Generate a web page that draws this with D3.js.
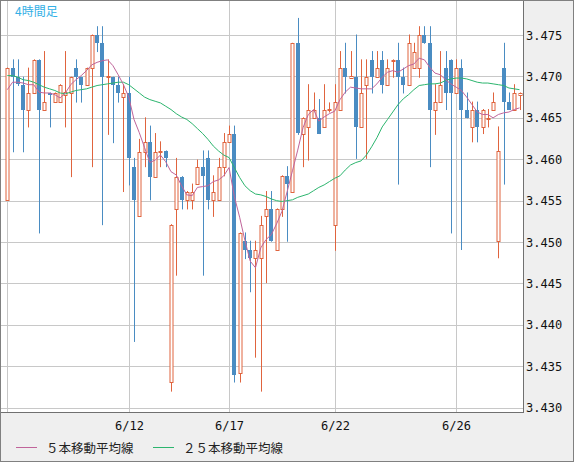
<!DOCTYPE html>
<html>
<head>
<meta charset="utf-8">
<script src="https://cdn.jsdelivr.net/npm/d3@7"></script>
<style>
  body { margin: 0; background: #fff; }
  svg { display: block; }
</style>
</head>
<body>
<svg id="chart" width="574" height="462"></svg>
<script>
// 4-hour candles, oldest first
const opens = [3.4551,3.4710,3.4699,3.4690,3.4660,3.4680,3.4720,3.4660,3.4680,3.4669,
  3.4669,3.4678,3.4680,3.4710,3.4699,3.4690,3.4710,3.4750,3.4740,3.4699,
  3.4699,3.4690,3.4675,3.4680,3.4591,3.4531,3.4609,3.4621,3.4579,3.4609,
  3.4610,3.4331,3.4540,3.4579,3.4551,3.4551,3.4570,3.4591,3.4601,3.4551,
  3.4551,3.4591,3.4621,3.4631,3.4342,3.4501,3.4490,3.4481,3.4481,3.4531,
  3.4540,3.4490,3.4540,3.4580,3.4561,3.4740,3.4630,3.4639,3.4650,3.4650,
  3.4639,3.4660,3.4520,3.4660,3.4710,3.4698,3.4699,3.4639,3.4690,3.4720,
  3.4699,3.4720,3.4690,3.4719,3.4720,3.4699,3.4690,3.4710,3.4710,3.4750,
  3.4740,3.4660,3.4669,3.4710,3.4720,3.4680,3.4710,3.4660,3.4639,3.4660,
  3.4639,3.4648,3.4660,3.4501,3.4710,3.4669,3.4660,3.4678];
const highs = [3.4710,3.4720,3.4720,3.4699,3.4710,3.4720,3.4720,3.4730,3.4680,3.4680,
  3.4690,3.4730,3.4699,3.4720,3.4699,3.4710,3.4750,3.4760,3.4760,3.4720,
  3.4699,3.4699,3.4690,3.4699,3.4601,3.4624,3.4650,3.4640,3.4631,3.4621,
  3.4610,3.4521,3.4601,3.4579,3.4561,3.4570,3.4599,3.4610,3.4610,3.4580,
  3.4601,3.4631,3.4640,3.4640,3.4511,3.4511,3.4501,3.4501,3.4531,3.4561,
  3.4561,3.4540,3.4580,3.4591,3.4740,3.4770,3.4650,3.4690,3.4680,3.4672,
  3.4690,3.4668,3.4690,3.4730,3.4740,3.4730,3.4750,3.4720,3.4720,3.4730,
  3.4730,3.4730,3.4720,3.4720,3.4740,3.4710,3.4750,3.4740,3.4760,3.4760,
  3.4760,3.4690,3.4730,3.4730,3.4720,3.4720,3.4720,3.4680,3.4669,3.4669,
  3.4660,3.4660,3.4680,3.4639,3.4740,3.4680,3.4690,3.4680];
const lows = [3.4551,3.4609,3.4689,3.4609,3.4639,3.4680,3.4511,3.4660,3.4639,3.4669,
  3.4669,3.4639,3.4579,3.4669,3.4669,3.4690,3.4591,3.4730,3.4521,3.4630,
  3.4620,3.4669,3.4561,3.4569,3.4380,3.4531,3.4591,3.4551,3.4579,3.4591,
  3.4591,3.4320,3.4460,3.4540,3.4540,3.4540,3.4570,3.4460,3.4540,3.4531,
  3.4551,3.4580,3.4621,3.4331,3.4331,3.4480,3.4440,3.4361,3.4320,3.4451,
  3.4501,3.4490,3.4531,3.4501,3.4561,3.4630,3.4591,3.4599,3.4650,3.4631,
  3.4639,3.4657,3.4490,3.4660,3.4680,3.4698,3.4601,3.4639,3.4601,3.4680,
  3.4699,3.4680,3.4690,3.4699,3.4570,3.4680,3.4690,3.4710,3.4699,3.4740,
  3.4591,3.4630,3.4669,3.4660,3.4511,3.4680,3.4491,3.4650,3.4621,3.4621,
  3.4631,3.4639,3.4660,3.4481,3.4570,3.4660,3.4660,3.4660];
const closes = [3.4710,3.4699,3.4691,3.4660,3.4680,3.4720,3.4660,3.4669,3.4678,3.4680,
  3.4690,3.4681,3.4699,3.4699,3.4690,3.4710,3.4750,3.4740,3.4699,3.4700,
  3.4690,3.4680,3.4680,3.4601,3.4551,3.4609,3.4621,3.4579,3.4609,3.4610,
  3.4601,3.4521,3.4579,3.4551,3.4561,3.4561,3.4591,3.4580,3.4551,3.4561,
  3.4591,3.4621,3.4631,3.4340,3.4511,3.4490,3.4481,3.4491,3.4521,3.4540,
  3.4501,3.4540,3.4580,3.4570,3.4740,3.4632,3.4650,3.4660,3.4660,3.4631,
  3.4660,3.4661,3.4669,3.4710,3.4699,3.4700,3.4639,3.4680,3.4699,3.4699,
  3.4710,3.4690,3.4710,3.4720,3.4699,3.4690,3.4740,3.4730,3.4750,3.4740,
  3.4660,3.4669,3.4690,3.4680,3.4680,3.4710,3.4660,3.4650,3.4660,3.4639,
  3.4660,3.4650,3.4669,3.4610,3.4669,3.4660,3.4680,3.4680];

// moving averages
const ma5 = [3.4684,3.4693,3.4693,3.4692,3.4690,3.4690,3.4681,3.4680,3.4680,3.4678,
  3.4674,3.4680,3.4690,3.4696,3.4701,3.4707,3.4714,3.4717,3.4719,3.4720,
  3.4713,3.4702,3.4690,3.4675,3.4648,3.4632,3.4614,3.4596,3.4599,3.4605,
  3.4597,3.4585,3.4581,3.4568,3.4557,3.4556,3.4566,3.4567,3.4568,3.4573,
  3.4575,3.4580,3.4590,3.4555,3.4530,3.4502,3.4477,3.4469,3.4493,3.4503,
  3.4509,3.4522,3.4537,3.4561,3.4586,3.4611,3.4638,3.4654,3.4660,3.4646,
  3.4651,3.4655,3.4658,3.4672,3.4681,3.4687,3.4686,3.4685,3.4685,3.4685,
  3.4691,3.4699,3.4705,3.4707,3.4705,3.4709,3.4713,3.4715,3.4722,3.4720,
  3.4711,3.4704,3.4702,3.4696,3.4691,3.4687,3.4683,3.4675,3.4666,3.4657,
  3.4654,3.4654,3.4650,3.4654,3.4656,3.4657,3.4660,3.4662];
const ma25 = [3.4701,3.4701,3.4699,3.4696,3.4695,3.4693,3.4690,3.4687,3.4685,3.4683,
  3.4680,3.4679,3.4681,3.4683,3.4684,3.4685,3.4687,3.4689,3.4690,3.4691,
  3.4692,3.4693,3.4693,3.4690,3.4685,3.4680,3.4675,3.4672,3.4670,3.4668,
  3.4664,3.4660,3.4655,3.4651,3.4648,3.4643,3.4637,3.4631,3.4624,3.4616,
  3.4610,3.4605,3.4602,3.4590,3.4578,3.4568,3.4562,3.4558,3.4557,3.4555,
  3.4552,3.4550,3.4549,3.4550,3.4551,3.4554,3.4556,3.4558,3.4562,3.4566,
  3.4569,3.4573,3.4577,3.4580,3.4587,3.4593,3.4596,3.4598,3.4605,3.4615,
  3.4626,3.4639,3.4648,3.4657,3.4666,3.4673,3.4678,3.4684,3.4689,3.4690,
  3.4691,3.4691,3.4692,3.4695,3.4697,3.4698,3.4698,3.4697,3.4695,3.4693,
  3.4692,3.4692,3.4691,3.4690,3.4689,3.4686,3.4685,3.4684];

const dateTickIdx = [0, 23, 42, 62, 85];
const dateTickLabels = ["", "6/12", "6/17", "6/22", "6/26"];
const priceTicks = [3.430, 3.435, 3.440, 3.445, 3.450, 3.455, 3.460, 3.465, 3.470, 3.475];
const seriesNames = ["５本移動平均線", "２５本移動平均線"];
const title = "4時間足";

const upColor = "#e0643e", downColor = "#4a8cc2";
const ma5Color = "#c0649a", ma25Color = "#2cb56e";

const svg = d3.select("#chart");
const W = 574, H = 462;
const plot = { left: 0, top: 0, right: 523, bottom: 412 };

const candles = opens.map((o, i) => ({
  i, o, h: highs[i], l: lows[i], c: closes[i]
}));

const x = d3.scaleLinear().domain([0, candles.length - 1]).range([7.3, 519.5]);
const y = d3.scaleLinear().domain([3.430, 3.475]).range([407.7, 35]);
const px = (i) => Math.round(x(i)) + 0.5;
const py = (v) => Math.round(y(v)) + 0.5;

// background
svg.append("rect").attr("width", W).attr("height", H).attr("fill", "#efefef");
svg.append("rect")
  .attr("x", plot.left).attr("y", plot.top)
  .attr("width", plot.right - plot.left).attr("height", plot.bottom - plot.top)
  .attr("fill", "#fff");

const clip = svg.append("clipPath").attr("id", "clip")
  .append("rect")
  .attr("x", plot.left).attr("y", plot.top)
  .attr("width", plot.right - plot.left).attr("height", plot.bottom - plot.top);

const grid = svg.append("g").attr("stroke", "#c8c8c8").attr("stroke-width", 1);
grid.selectAll(".hg").data(priceTicks).join("line")
  .attr("x1", plot.left).attr("x2", plot.right)
  .attr("y1", (d) => py(d)).attr("y2", (d) => py(d));
grid.selectAll(".vg").data(dateTickIdx).join("line")
  .attr("x1", (d) => px(d)).attr("x2", (d) => px(d))
  .attr("y1", plot.top).attr("y2", plot.bottom);

const chartArea = svg.append("g").attr("clip-path", "url(#clip)");

// wicks
chartArea.selectAll(".wick").data(candles).join("line")
  .attr("class", "wick")
  .attr("x1", (d) => px(d.i)).attr("x2", (d) => px(d.i))
  .attr("y1", (d) => y(d.h) - 0.5).attr("y2", (d) => y(d.l) + 0.5)
  .attr("stroke", (d) => (d.c >= d.o ? upColor : downColor))
  .attr("stroke-width", 1);

// bodies
chartArea.selectAll(".body").data(candles).join("rect")
  .attr("class", "body")
  .each(function (d) {
    const up = d.c >= d.o;
    const top = Math.round(y(Math.max(d.o, d.c)));
    const bot = Math.round(y(Math.min(d.o, d.c)));
    const cx = px(d.i);
    const sel = d3.select(this);
    if (up) {
      sel.attr("x", cx - 1.5).attr("y", top + 0.5)
        .attr("width", 3).attr("height", Math.max(bot - top, 1))
        .attr("fill", "#fff").attr("stroke", upColor).attr("stroke-width", 1);
    } else {
      sel.attr("x", cx - 2.5).attr("y", top)
        .attr("width", 4).attr("height", Math.max(bot - top, 1))
        .attr("fill", downColor);
    }
  });

// moving averages
const line = (arr) => d3.line().x((d, i) => x(i)).y((d) => y(d))(arr);
chartArea.append("path").attr("d", line(ma25))
  .attr("fill", "none").attr("stroke", ma25Color).attr("stroke-width", 1);
chartArea.append("path").attr("d", line(ma5))
  .attr("fill", "none").attr("stroke", ma5Color).attr("stroke-width", 1);

// plot border
svg.append("rect")
  .attr("x", plot.left + 0.5).attr("y", plot.top + 0.5)
  .attr("width", plot.right - plot.left).attr("height", plot.bottom - plot.top)
  .attr("fill", "none").attr("stroke", "#707070");

// outer frame
svg.append("rect")
  .attr("x", 0.5).attr("y", 0.5).attr("width", W - 1).attr("height", H - 1)
  .attr("fill", "none").attr("stroke", "#808080");

const mono = "'DejaVu Sans Mono', 'Liberation Mono', monospace";

// price axis (right)
svg.append("g").selectAll("text").data(priceTicks).join("text")
  .attr("x", 526).attr("y", (d) => y(d) + 4.5)
  .attr("font-family", mono).attr("font-size", 12)
  .attr("fill", "#111")
  .text((d) => d.toFixed(3));

// date axis
svg.append("g").selectAll("text").data(dateTickIdx).join("text")
  .attr("x", (d) => px(d)).attr("y", 429.5)
  .attr("text-anchor", "middle")
  .attr("font-family", mono).attr("font-size", 12)
  .attr("fill", "#111")
  .text((d, k) => dateTickLabels[k]);

// title
svg.append("text").attr("x", 15).attr("y", 16)
  .attr("font-family", "'Noto Sans CJK JP', sans-serif").attr("font-size", 12)
  .attr("fill", "#33b0e6").text(title);

// legend
const legend = svg.append("g").attr("font-family", "'Noto Sans CJK JP', sans-serif")
  .attr("font-size", 12.5).attr("fill", "#222");
const legendItems = [
  { name: seriesNames[0], color: ma5Color, x0: 16 },
  { name: seriesNames[1], color: ma25Color, x0: 153 }
];
legendItems.forEach((d) => {
  legend.append("line").attr("x1", d.x0).attr("x2", d.x0 + 21)
    .attr("y1", 447.5).attr("y2", 447.5).attr("stroke", d.color);
  legend.append("text").attr("x", d.x0 + 30).attr("y", 452.5).text(d.name);
});
</script>
</body>
</html>
